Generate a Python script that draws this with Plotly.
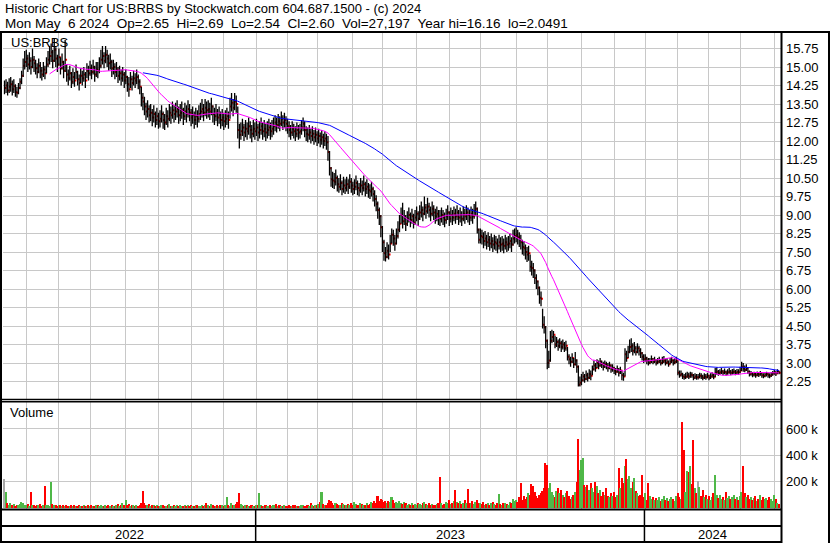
import plotly.graph_objects as go
import pandas as pd

# ---------------- data ----------------
TITLE_1 = "Historic Chart for US:BRBS by Stockwatch.com 604.687.1500 - (c) 2024"
TITLE_2 = "Mon May  6 2024  Op=2.65  Hi=2.69  Lo=2.54  Cl=2.60  Vol=27,197  Year hi=16.16  lo=2.0491"
TICKER = "US:BRBS"
VOLUME_LABEL = "Volume"

START_DATE = "2022-05-11"
END_DATE = "2024-05-06"
HOLIDAYS = ["2022-05-30", "2022-06-20", "2022-07-04", "2022-09-05", "2022-11-24", "2022-12-26",
            "2023-01-02", "2023-01-16", "2023-02-20", "2023-04-07", "2023-05-29", "2023-06-19",
            "2023-07-04", "2023-09-04", "2023-11-23", "2023-12-25",
            "2024-01-01", "2024-01-15", "2024-02-19", "2024-03-29"]

CLOSE = [
    14.15, 14.25, 14.05, 14.20, 14.30, 14.10, 14.22, 13.98, 13.96, 14.15,
    14.40, 14.65, 15.05, 15.20, 15.35, 15.10, 15.25, 15.00, 15.30, 15.15,
    14.95, 14.80, 15.05, 14.85, 14.70, 14.90, 14.75, 15.10, 15.30, 15.45,
    15.60, 15.25, 15.70, 15.35, 15.10, 15.40, 14.95, 15.20, 14.85, 15.30,
    14.70, 14.55, 14.75, 14.40, 14.60, 14.45, 14.80, 14.50, 14.35, 14.65,
    14.55, 14.70, 14.45, 14.85, 14.75, 14.95, 14.80, 15.00, 14.70, 14.90,
    14.85, 15.05, 15.30, 15.45, 15.25, 15.50, 15.35, 15.15, 15.20, 14.95,
    15.00, 14.80, 14.90, 14.65, 14.75, 14.55, 14.70, 14.45, 14.60, 14.30,
    14.10, 14.50, 14.35, 14.55, 14.45, 14.60, 14.40, 14.20, 13.75, 13.60,
    13.40, 13.20, 13.30, 13.05, 13.15, 12.95, 13.10, 12.85, 13.00, 12.80,
    12.90, 13.10, 12.85, 12.75, 13.00, 12.90, 13.15, 13.05, 13.25, 13.10,
    13.20, 13.30, 13.05, 13.15, 13.25, 13.00, 13.20, 13.10, 13.30, 13.15,
    12.95, 13.05, 12.85, 13.00, 12.90, 13.10, 13.20, 13.30, 13.15, 13.35,
    13.25, 13.30, 13.20, 13.40, 13.10, 13.00, 13.15, 12.95, 13.05, 12.85,
    12.95, 12.80, 12.90, 13.00, 12.85, 13.40, 13.55, 13.35, 13.60, 13.50,
    12.45, 12.25, 12.40, 12.55, 12.35, 12.50, 12.40, 12.60, 12.45, 12.30,
    12.50, 12.40, 12.55, 12.35, 12.45, 12.60, 12.40, 12.50, 12.35, 12.45,
    12.55, 12.40, 12.50, 12.60, 12.75, 12.65, 12.80, 12.70, 12.90, 12.75,
    12.85, 12.70, 12.60, 12.45, 12.35, 12.50, 12.40, 12.30, 12.45, 12.35,
    12.40, 12.55, 12.70, 12.45, 12.30, 12.25, 12.35, 12.20, 12.30, 12.15,
    12.25, 12.10, 12.20, 12.05, 12.15, 12.00, 12.10, 11.95, 11.55, 10.90,
    10.45, 10.40, 10.35, 10.50, 10.25, 10.15, 10.30, 10.05, 10.20, 10.10,
    10.25, 10.15, 10.35, 10.20, 10.05, 10.15, 10.30, 10.10, 10.00, 10.20,
    10.10, 10.25, 10.05, 10.15, 10.00, 9.95, 10.05, 9.85, 9.65, 9.45,
    9.20, 8.95, 8.50, 7.90, 7.45, 7.30, 7.55, 7.40, 7.85, 8.20,
    8.05, 7.85, 8.15, 8.40, 8.65, 9.00, 8.75, 8.90, 8.65, 8.85,
    9.00, 8.80, 8.95, 8.70, 8.90, 9.05, 8.85, 9.10, 9.20, 9.05,
    9.30, 9.15, 9.35, 9.20, 9.05, 9.25, 9.10, 8.95, 9.05, 8.90,
    8.85, 9.00, 8.90, 8.80, 8.95, 9.10, 8.85, 9.00, 8.90, 9.05,
    8.95, 9.10, 8.90, 9.00, 8.85, 9.05, 8.95, 9.10, 9.00, 8.90,
    9.05, 8.95, 9.15, 9.25, 8.40, 8.00, 8.15, 8.10, 7.95, 8.05,
    7.90, 8.00, 7.85, 7.95, 7.80, 7.90, 7.85, 7.75, 7.90, 7.80,
    7.85, 7.75, 7.90, 7.80, 7.85, 7.95, 7.80, 8.05, 8.15, 8.20,
    8.10, 8.00, 7.90, 7.70, 7.65, 7.50, 7.40, 7.45, 6.90, 6.85,
    6.75, 6.45, 6.30, 6.05, 5.65, 5.60, 4.55, 4.45, 3.90, 3.00,
    3.10, 3.90, 4.05, 4.15, 3.75, 3.85, 3.70, 3.80, 3.65, 3.75,
    3.60, 3.70, 3.25, 3.15, 3.05, 3.20, 2.95, 3.10, 2.85, 2.12,
    2.20, 2.30, 2.45, 2.35, 2.50, 2.40, 2.55, 2.48, 2.75, 2.90,
    2.80, 3.00, 2.90, 3.05, 2.95, 2.85, 2.95, 2.90, 2.80, 2.90,
    2.75, 2.80, 2.70, 2.65, 2.75, 2.60, 2.70, 2.50, 2.45, 3.35,
    3.20, 3.45, 3.65, 3.70, 3.50, 3.60, 3.45, 3.60, 3.50, 3.40,
    3.25, 3.15, 3.20, 3.10, 3.00, 3.05, 3.15, 3.05, 3.10, 3.00,
    3.05, 3.10, 3.00, 3.05, 3.10, 3.00, 3.05, 2.95, 3.05, 3.10,
    3.00, 3.05, 3.10, 2.60, 2.50, 2.55, 2.45, 2.42, 2.44, 2.50,
    2.45, 2.52, 2.50, 2.40, 2.45, 2.42, 2.42, 2.48, 2.45, 2.40,
    2.45, 2.42, 2.48, 2.40, 2.45, 2.50, 2.44, 2.60, 2.65, 2.58,
    2.62, 2.66, 2.60, 2.64, 2.58, 2.62, 2.66, 2.60, 2.63, 2.65,
    2.60, 2.64, 2.62, 2.70, 2.85, 2.78, 2.72, 2.80, 2.65, 2.55,
    2.58, 2.52, 2.55, 2.50, 2.56, 2.53, 2.58, 2.50, 2.47, 2.52,
    2.55, 2.50, 2.48, 2.53, 2.58, 2.62, 2.57, 2.65, 2.60,
]

HIGH = [
    14.45, 14.50, 14.40, 14.55, 14.60, 14.45, 14.50, 14.30, 14.20, 14.35,
    14.55, 14.85, 15.35, 15.65, 15.70, 15.50, 15.60, 15.40, 15.75, 15.45,
    15.30, 15.15, 15.35, 15.20, 15.00, 15.20, 15.05, 15.40, 15.65, 15.85,
    15.95, 15.70, 16.16, 15.80, 15.50, 15.75, 15.40, 15.55, 15.25, 16.10,
    15.10, 14.90, 15.05, 14.80, 14.95, 14.80, 15.10, 14.85, 14.70, 14.95,
    14.85, 15.00, 14.80, 15.15, 15.05, 15.25, 15.10, 15.30, 15.05, 15.20,
    15.20, 15.40, 15.70, 15.85, 15.60, 15.85, 15.70, 15.50, 15.55, 15.30,
    15.30, 15.15, 15.20, 15.00, 15.05, 14.90, 15.00, 14.80, 14.90, 14.65,
    14.60, 14.80, 14.65, 14.85, 14.75, 14.90, 14.70, 14.50, 14.20, 13.95,
    13.80, 13.55, 13.65, 13.45, 13.50, 13.30, 13.45, 13.20, 13.35, 13.15,
    13.25, 13.45, 13.20, 13.10, 13.35, 13.25, 13.50, 13.40, 13.60, 13.45,
    13.55, 13.65, 13.40, 13.50, 13.60, 13.35, 13.55, 13.45, 13.65, 13.50,
    13.30, 13.40, 13.20, 13.35, 13.25, 13.45, 13.55, 13.70, 13.50, 13.70,
    13.60, 13.65, 13.55, 13.75, 13.45, 13.35, 13.50, 13.30, 13.40, 13.20,
    13.30, 13.15, 13.25, 13.35, 13.20, 13.75, 13.95, 13.70, 13.95, 13.85,
    13.40, 12.70, 12.75, 12.90, 12.70, 12.85, 12.75, 12.95, 12.80, 12.65,
    12.85, 12.75, 12.90, 12.70, 12.80, 12.95, 12.75, 12.85, 12.70, 12.80,
    12.90, 12.75, 12.85, 12.95, 13.05, 12.95, 13.10, 13.00, 13.20, 13.05,
    13.15, 13.00, 12.90, 12.80, 12.65, 12.80, 12.70, 12.60, 12.75, 12.65,
    12.70, 12.85, 12.95, 12.80, 12.60, 12.55, 12.65, 12.50, 12.60, 12.45,
    12.55, 12.40, 12.50, 12.35, 12.45, 12.30, 12.40, 12.30, 12.20, 11.60,
    10.95, 10.75, 10.70, 10.85, 10.60, 10.50, 10.65, 10.40, 10.55, 10.45,
    10.55, 10.45, 10.65, 10.50, 10.35, 10.45, 10.60, 10.40, 10.30, 10.50,
    10.40, 10.60, 10.35, 10.45, 10.30, 10.25, 10.35, 10.15, 10.00, 9.80,
    9.55, 9.30, 9.00, 8.55, 8.00, 7.70, 7.90, 7.80, 8.20, 8.45,
    8.40, 8.20, 8.45, 8.75, 9.00, 9.30, 9.50, 9.20, 9.00, 9.15,
    9.30, 9.10, 9.25, 9.05, 9.20, 9.35, 9.15, 9.40, 9.55, 9.35,
    9.75, 9.45, 9.70, 9.50, 9.35, 9.55, 9.40, 9.25, 9.35, 9.20,
    9.20, 9.30, 9.20, 9.10, 9.25, 9.40, 9.15, 9.30, 9.20, 9.35,
    9.25, 9.40, 9.20, 9.30, 9.15, 9.35, 9.25, 9.40, 9.30, 9.20,
    9.35, 9.25, 9.45, 9.55, 9.30, 8.45, 8.45, 8.40, 8.30, 8.35,
    8.20, 8.30, 8.15, 8.25, 8.10, 8.20, 8.15, 8.05, 8.20, 8.10,
    8.15, 8.05, 8.20, 8.10, 8.15, 8.25, 8.10, 8.40, 8.45, 8.50,
    8.40, 8.30, 8.20, 8.00, 7.95, 7.80, 7.70, 7.75, 7.40, 7.15,
    7.05, 6.80, 6.60, 6.35, 6.10, 5.90, 5.20, 4.90, 4.50, 3.95,
    3.50, 4.30, 4.35, 4.30, 4.10, 4.05, 3.95, 4.00, 3.90, 3.95,
    3.85, 3.90, 3.65, 3.35, 3.25, 3.40, 3.20, 3.45, 3.15, 2.90,
    2.45, 2.55, 2.65, 2.55, 2.70, 2.60, 2.75, 2.70, 2.90, 3.10,
    3.00, 3.15, 3.10, 3.20, 3.10, 3.05, 3.10, 3.05, 3.00, 3.05,
    2.95, 2.95, 2.85, 2.80, 2.90, 2.80, 2.85, 2.70, 2.60, 3.60,
    3.50, 3.70, 3.95, 4.00, 3.80, 3.85, 3.70, 3.80, 3.70, 3.60,
    3.45, 3.35, 3.35, 3.25, 3.20, 3.20, 3.30, 3.20, 3.25, 3.15,
    3.20, 3.25, 3.15, 3.25, 3.28, 3.15, 3.20, 3.10, 3.20, 3.25,
    3.15, 3.20, 3.25, 3.10, 2.70, 2.70, 2.60, 2.55, 2.60, 2.65,
    2.60, 2.65, 2.62, 2.55, 2.58, 2.55, 2.55, 2.60, 2.58, 2.52,
    2.58, 2.55, 2.60, 2.52, 2.58, 2.62, 2.56, 2.80, 2.82, 2.72,
    2.75, 2.80, 2.72, 2.78, 2.70, 2.75, 2.80, 2.72, 2.76, 2.78,
    2.72, 2.76, 2.75, 2.85, 3.05, 3.00, 2.90, 2.95, 2.82, 2.70,
    2.68, 2.62, 2.65, 2.60, 2.66, 2.63, 2.68, 2.60, 2.58, 2.62,
    2.65, 2.60, 2.58, 2.63, 2.68, 2.72, 2.67, 2.75, 2.69,
]

LOW = [
    13.90, 13.95, 13.85, 13.95, 14.00, 13.85, 13.95, 13.80, 13.75, 13.90,
    14.10, 14.30, 14.60, 14.90, 15.00, 14.80, 14.90, 14.70, 14.95, 14.80,
    14.70, 14.55, 14.75, 14.55, 14.45, 14.60, 14.50, 14.75, 15.00, 15.10,
    15.20, 14.95, 15.20, 15.00, 14.80, 15.05, 14.70, 14.90, 14.55, 14.80,
    14.40, 14.25, 14.45, 14.15, 14.30, 14.20, 14.50, 14.25, 14.05, 14.35,
    14.25, 14.40, 14.15, 14.55, 14.45, 14.65, 14.50, 14.70, 14.40, 14.60,
    14.55, 14.75, 14.95, 15.10, 14.95, 15.15, 15.00, 14.85, 14.90, 14.60,
    14.70, 14.50, 14.60, 14.35, 14.45, 14.25, 14.40, 14.15, 14.30, 14.00,
    13.80, 14.15, 14.05, 14.25, 14.15, 14.30, 14.10, 13.90, 13.40, 13.25,
    13.05, 12.85, 12.95, 12.75, 12.80, 12.60, 12.75, 12.55, 12.65, 12.50,
    12.55, 12.75, 12.50, 12.45, 12.65, 12.55, 12.80, 12.70, 12.90, 12.75,
    12.85, 12.95, 12.70, 12.80, 12.90, 12.65, 12.85, 12.75, 12.95, 12.80,
    12.60, 12.70, 12.50, 12.65, 12.55, 12.75, 12.85, 12.95, 12.80, 13.00,
    12.90, 12.95, 12.85, 13.05, 12.75, 12.65, 12.80, 12.60, 12.70, 12.50,
    12.60, 12.45, 12.55, 12.65, 12.50, 12.90, 13.20, 13.00, 13.25, 13.15,
    12.10, 11.70, 12.05, 12.20, 12.00, 12.15, 12.05, 12.25, 12.10, 11.95,
    12.15, 12.05, 12.20, 12.00, 12.10, 12.25, 12.05, 12.15, 12.00, 12.10,
    12.20, 12.05, 12.15, 12.25, 12.40, 12.35, 12.50, 12.40, 12.60, 12.45,
    12.55, 12.40, 12.30, 12.15, 12.05, 12.20, 12.10, 12.00, 12.15, 12.05,
    12.10, 12.25, 12.40, 12.15, 12.00, 11.95, 12.05, 11.90, 12.00, 11.85,
    11.95, 11.80, 11.90, 11.75, 11.85, 11.70, 11.80, 11.65, 11.20, 10.60,
    10.15, 10.10, 10.05, 10.20, 9.95, 9.90, 10.00, 9.80, 9.90, 9.85,
    9.95, 9.85, 10.05, 9.90, 9.80, 9.85, 10.00, 9.80, 9.75, 9.90,
    9.80, 9.95, 9.75, 9.85, 9.70, 9.65, 9.75, 9.55, 9.35, 9.15,
    8.85, 8.60, 8.10, 7.50, 7.15, 7.12, 7.25, 7.20, 7.50, 7.85,
    7.75, 7.55, 7.80, 8.05, 8.30, 8.65, 8.45, 8.60, 8.35, 8.55,
    8.70, 8.50, 8.65, 8.45, 8.60, 8.75, 8.55, 8.80, 8.90, 8.75,
    9.00, 8.85, 9.05, 8.90, 8.75, 8.95, 8.80, 8.65, 8.75, 8.60,
    8.55, 8.70, 8.60, 8.50, 8.65, 8.80, 8.55, 8.70, 8.60, 8.75,
    8.65, 8.80, 8.60, 8.70, 8.55, 8.75, 8.65, 8.80, 8.70, 8.60,
    8.75, 8.65, 8.85, 8.95, 8.25, 7.85, 7.85, 7.80, 7.65, 7.75,
    7.60, 7.70, 7.55, 7.65, 7.50, 7.60, 7.55, 7.45, 7.60, 7.50,
    7.55, 7.45, 7.60, 7.50, 7.55, 7.65, 7.50, 7.75, 7.85, 7.90,
    7.80, 7.70, 7.60, 7.40, 7.35, 7.20, 7.10, 7.15, 6.70, 6.55,
    6.45, 6.20, 6.00, 5.75, 5.40, 5.30, 4.40, 4.20, 3.60, 2.75,
    2.80, 3.05, 3.80, 3.85, 3.60, 3.65, 3.50, 3.60, 3.45, 3.55,
    3.45, 3.50, 3.10, 2.95, 2.85, 3.00, 2.80, 2.90, 2.60, 2.05,
    2.05, 2.10, 2.25, 2.20, 2.30, 2.25, 2.35, 2.30, 2.50, 2.70,
    2.65, 2.80, 2.75, 2.85, 2.80, 2.70, 2.80, 2.75, 2.65, 2.75,
    2.60, 2.65, 2.55, 2.50, 2.60, 2.45, 2.55, 2.30, 2.28, 2.45,
    3.05, 3.20, 3.40, 3.45, 3.30, 3.40, 3.30, 3.40, 3.30, 3.20,
    3.10, 3.00, 3.05, 2.95, 2.90, 2.95, 3.00, 2.95, 3.00, 2.90,
    2.95, 3.00, 2.90, 2.95, 3.00, 2.90, 2.95, 2.85, 2.95, 3.00,
    2.90, 2.95, 3.00, 2.50, 2.40, 2.45, 2.35, 2.32, 2.35, 2.40,
    2.35, 2.40, 2.40, 2.30, 2.35, 2.32, 2.33, 2.38, 2.35, 2.30,
    2.35, 2.32, 2.38, 2.30, 2.35, 2.40, 2.34, 2.42, 2.52, 2.48,
    2.52, 2.55, 2.50, 2.54, 2.48, 2.52, 2.56, 2.50, 2.53, 2.55,
    2.50, 2.54, 2.52, 2.58, 2.68, 2.65, 2.62, 2.68, 2.55, 2.45,
    2.48, 2.42, 2.45, 2.40, 2.46, 2.43, 2.48, 2.40, 2.38, 2.42,
    2.45, 2.40, 2.38, 2.43, 2.48, 2.52, 2.47, 2.55, 2.54,
]

VOLUME_K = [
    220, 120, 40, 25, 35, 20, 30, 15, 25, 20,
    30, 45, 35, 25, 20, 30, 15, 120, 25, 20,
    15, 25, 20, 30, 15, 20, 170, 25, 20, 15,
    195, 30, 20, 25, 15, 20, 25, 15, 20, 10,
    20, 15, 10, 20, 15, 25, 10, 15, 20, 10,
    15, 20, 10, 15, 25, 10, 20, 15, 10, 20,
    25, 15, 20, 10, 15, 20, 10, 25, 15, 20,
    10, 15, 20, 30, 15, 20, 40, 25, 63, 20,
    30, 15, 20, 25, 15, 20, 10, 25, 40, 130,
    35, 25, 20, 30, 15, 20, 25, 15, 20, 10,
    15, 20, 25, 10, 15, 20, 30, 15, 10, 20,
    15, 20, 10, 25, 15, 10, 20, 15, 25, 10,
    20, 15, 10, 20, 25, 15, 10, 20, 15, 25,
    40, 20, 15, 30, 20, 15, 10, 20, 15, 25,
    20, 15, 25, 86, 20, 15, 35, 25, 20, 30,
    45, 116, 30, 20, 15, 25, 20, 10, 15, 20,
    15, 10, 20, 25, 110, 20, 15, 10, 20, 15,
    10, 20, 15, 25, 20, 30, 15, 20, 10, 15,
    20, 10, 15, 20, 10, 15, 25, 20, 15, 10,
    15, 20, 25, 15, 10, 20, 15, 35, 20, 15,
    25, 20, 30, 45, 125, 30, 20, 25, 40, 60,
    50, 35, 25, 40, 30, 20, 25, 35, 30, 20,
    25, 30, 20, 35, 25, 45, 30, 20, 25, 35,
    30, 20, 25, 40, 25, 30, 45, 35, 50, 40,
    89, 55, 70, 60, 45, 50, 40, 55, 45, 80,
    60, 40, 45, 35, 50, 40, 30, 45, 35, 25,
    30, 25, 35, 20, 30, 25, 40, 30, 20, 35,
    45, 30, 25, 35, 20, 30, 25, 20, 30, 35,
    233, 40, 25, 30, 45, 35, 60, 30, 40, 55,
    140, 45, 35, 50, 30, 40, 60, 35, 147, 40,
    35, 50, 30, 45, 60, 40, 35, 30, 45, 25,
    30, 40, 25, 35, 45, 30, 25, 40, 106, 30,
    25, 35, 40, 30, 25, 45, 35, 70, 50, 60,
    45, 80, 190, 60, 90, 70, 85, 110, 95, 180,
    170, 120, 90, 75, 100, 115, 130, 150, 340, 330,
    150, 190, 120, 100, 80, 130, 150, 110, 140, 95,
    80, 110, 130, 90, 70, 85, 100, 120, 197, 526,
    290, 367, 380, 175, 160, 177, 140, 190, 150, 120,
    200, 170, 110, 140, 90, 120, 100, 150, 90, 80,
    110, 90, 120, 80, 100, 304, 150, 230, 190, 321,
    372, 220, 240, 150, 200, 230, 130, 110, 90, 100,
    253, 80, 110, 60, 190, 90, 70, 85, 60, 75,
    60, 80, 50, 70, 90, 60, 75, 50, 65, 85,
    70, 55, 90, 110, 80, 65, 652, 443, 120, 278,
    270, 321, 180, 519, 150, 110, 207, 160, 90, 135,
    80, 100, 70, 90, 60, 85, 110, 253, 95, 75,
    100, 70, 85, 60, 120, 75, 90, 65, 80, 100,
    70, 85, 60, 90, 120, 316, 110, 80, 95, 70,
    85, 60, 75, 90, 55, 70, 95, 60, 80, 65,
    75, 60, 85, 70, 55, 101, 65, 40, 27,
]

PRICE_TICKS = [2.25, 3.00, 3.75, 4.50, 5.25, 6.00, 6.75, 7.50, 8.25, 9.00,
               9.75, 10.50, 11.25, 12.00, 12.75, 13.50, 14.25, 15.00, 15.75]
PRICE_TICK_LABELS = ["2.25", "3.00", "3.75", "4.50", "5.25", "6.00", "6.75", "7.50", "8.25", "9.00",
                     "9.75", "10.50", "11.25", "12.00", "12.75", "13.50", "14.25", "15.00", "15.75"]
VOLUME_TICKS = [200000, 400000, 600000]
VOLUME_TICK_LABELS = ["200 k", "400 k", "600 k"]
MA_SHORT = 30
MA_LONG = 90

# ---------------- styling ----------------
W, H = 830, 543
FONT = "Liberation Sans, Arial, sans-serif"
GRID = "#c8c8c8"
RED = "#ff0000"
GREEN = "#4fb848"
GREY = "#a8a8a8"

N = len(CLOSE)
assert len(HIGH) == N and len(LOW) == N and len(VOLUME_K) == N, (len(HIGH), len(LOW), len(VOLUME_K), N)

days = pd.bdate_range(START_DATE, END_DATE)
days = days[~days.isin(pd.to_datetime(HOLIDAYS))]
days = days[-N:]
idx = list(range(N))

month_starts = [i for i in range(1, N) if days[i].month != days[i - 1].month]
year_starts = [i for i in range(1, N) if days[i].year != days[i - 1].year]

ma_s = pd.Series(CLOSE).rolling(MA_SHORT).mean()
ma_l = pd.Series(CLOSE).rolling(MA_LONG).mean()
ma_s = [None if pd.isna(v) else v for v in ma_s]
ma_l = [None if pd.isna(v) else v for v in ma_l]

vol = [v * 1000 for v in VOLUME_K]
vcol = [GREY]
for i in range(1, N):
    if CLOSE[i] > CLOSE[i - 1]:
        vcol.append(GREEN)
    elif CLOSE[i] < CLOSE[i - 1]:
        vcol.append(RED)
    else:
        vcol.append(GREY)

bx, by = [], []
for i in idx:
    bx += [i, i, None]
    by += [LOW[i], HIGH[i], None]

fig = go.Figure()
# red close marks sit just right of each bar; drawn first so the next bar partly hides them
fig.add_trace(go.Scatter(x=[i + 0.6 for i in idx], y=CLOSE, mode="markers",
                         marker=dict(symbol="square", size=2.0, color=RED, line=dict(width=0)),
                         hoverinfo="skip", xaxis="x", yaxis="y"))
fig.add_trace(go.Scatter(x=bx, y=by, mode="lines", line=dict(color="black", width=1.3),
                         hoverinfo="skip", xaxis="x", yaxis="y"))
fig.add_trace(go.Scatter(x=idx, y=ma_s, mode="lines", line=dict(color="#ff00ff", width=1),
                         hoverinfo="skip", xaxis="x", yaxis="y"))
fig.add_trace(go.Scatter(x=idx, y=ma_l, mode="lines", line=dict(color="#0000ff", width=1),
                         hoverinfo="skip", xaxis="x", yaxis="y"))
fig.add_trace(go.Bar(x=idx, y=vol, marker=dict(color=vcol, line=dict(width=0)), width=1.0,
                     hoverinfo="skip", xaxis="x2", yaxis="y2"))

X0, X1 = -0.96, 499.3
XDOM = [3 / W, 781 / W]
PY = [1 - 399.5 / H, 1 - 33 / H]
VY = [1 - 509 / H, 1 - 402 / H]

xcommon = dict(domain=XDOM, range=[X0, X1], tickvals=month_starts, showticklabels=False,
               showgrid=True, gridcolor=GRID, gridwidth=1, zeroline=False, ticks="",
               showline=False, fixedrange=True)

fig.update_layout(
    width=W, height=H, margin=dict(l=0, r=0, t=0, b=0),
    paper_bgcolor="white", plot_bgcolor="white", showlegend=False,
    font=dict(family=FONT, size=13, color="black"),
    bargap=0,
    xaxis=dict(anchor="y", **xcommon),
    xaxis2=dict(anchor="y2", **xcommon),
    yaxis=dict(domain=PY, range=[1.52, 16.38], side="right", anchor="x",
               tickvals=PRICE_TICKS, ticktext=PRICE_TICK_LABELS, showgrid=True, gridcolor=GRID,
               zeroline=False, ticks="", ticklabelstandoff=4, tickfont=dict(size=13), fixedrange=True),
    yaxis2=dict(domain=VY, range=[-8000, 805000], side="right", anchor="x2",
                tickvals=VOLUME_TICKS, ticktext=VOLUME_TICK_LABELS, showgrid=True, gridcolor=GRID,
                zeroline=False, ticks="", ticklabelstandoff=4, tickfont=dict(size=13), fixedrange=True),
)

nb = "\u00a0"
ann = [
    dict(text=TITLE_1.replace(" ", nb), x=3 / W, y=1 - 9 / H, font=dict(size=13, color="black", family=FONT)),
    dict(text=TITLE_2.replace(" ", nb), x=3 / W, y=1 - 23 / H, font=dict(size=13.5, color="black", family=FONT)),
    dict(text=TICKER, x=9 / W, y=1 - 42 / H, font=dict(size=13, color="black", family=FONT)),
    dict(text=VOLUME_LABEL, x=8 / W, y=1 - 413 / H, font=dict(size=13, color="black", family=FONT)),
]
for a in ann:
    fig.add_annotation(xref="paper", yref="paper", xanchor="left", yanchor="middle",
                       showarrow=False, **a)

# year labels centred in each year's span
year_edges = [X0] + [s - 0.5 for s in year_starts] + [X1]
for k in range(len(year_edges) - 1):
    fig.add_annotation(xref="x2", yref="paper", x=(year_edges[k] + year_edges[k + 1]) / 2,
                       y=1 - 534 / H, text=str(days[0].year + k), showarrow=False,
                       xanchor="center", yanchor="middle", font=dict(size=13, color="black", family=FONT))

shapes = []
def pline(x0, y0, x1, y1, w=2):
    shapes.append(dict(type="line", xref="paper", yref="paper", x0=x0 / W, x1=x1 / W,
                       y0=1 - y0 / H, y1=1 - y1 / H, line=dict(color="black", width=w)))

pline(0, 32, W, 32, 2)          # header separator
pline(1, 32, 1, H, 2)           # left border
pline(829, 32, 829, H, 2)       # right border
pline(781.5, 32, 781.5, H, 2)   # plot right edge
pline(0, 399.5, 781.5, 399.5, 1.5)
pline(0, 401.8, 781.5, 401.8, 1.5)
pline(0, 509.5, 781.5, 509.5, 2)
pline(0, 526, 781.5, 526, 2)
pline(0, 542, 781.5, 542, 2)
for s in year_starts:
    shapes.append(dict(type="line", xref="x2", yref="paper", x0=s - 0.5, x1=s - 0.5,
                       y0=1 - 542 / H, y1=1 - 509.5 / H, line=dict(color="black", width=1.5)))
fig.update_layout(shapes=shapes)

fig.write_html("out.html", config={"displayModeBar": False},
               post_script="document.body.style.margin='0';document.body.style.overflow='hidden';")
